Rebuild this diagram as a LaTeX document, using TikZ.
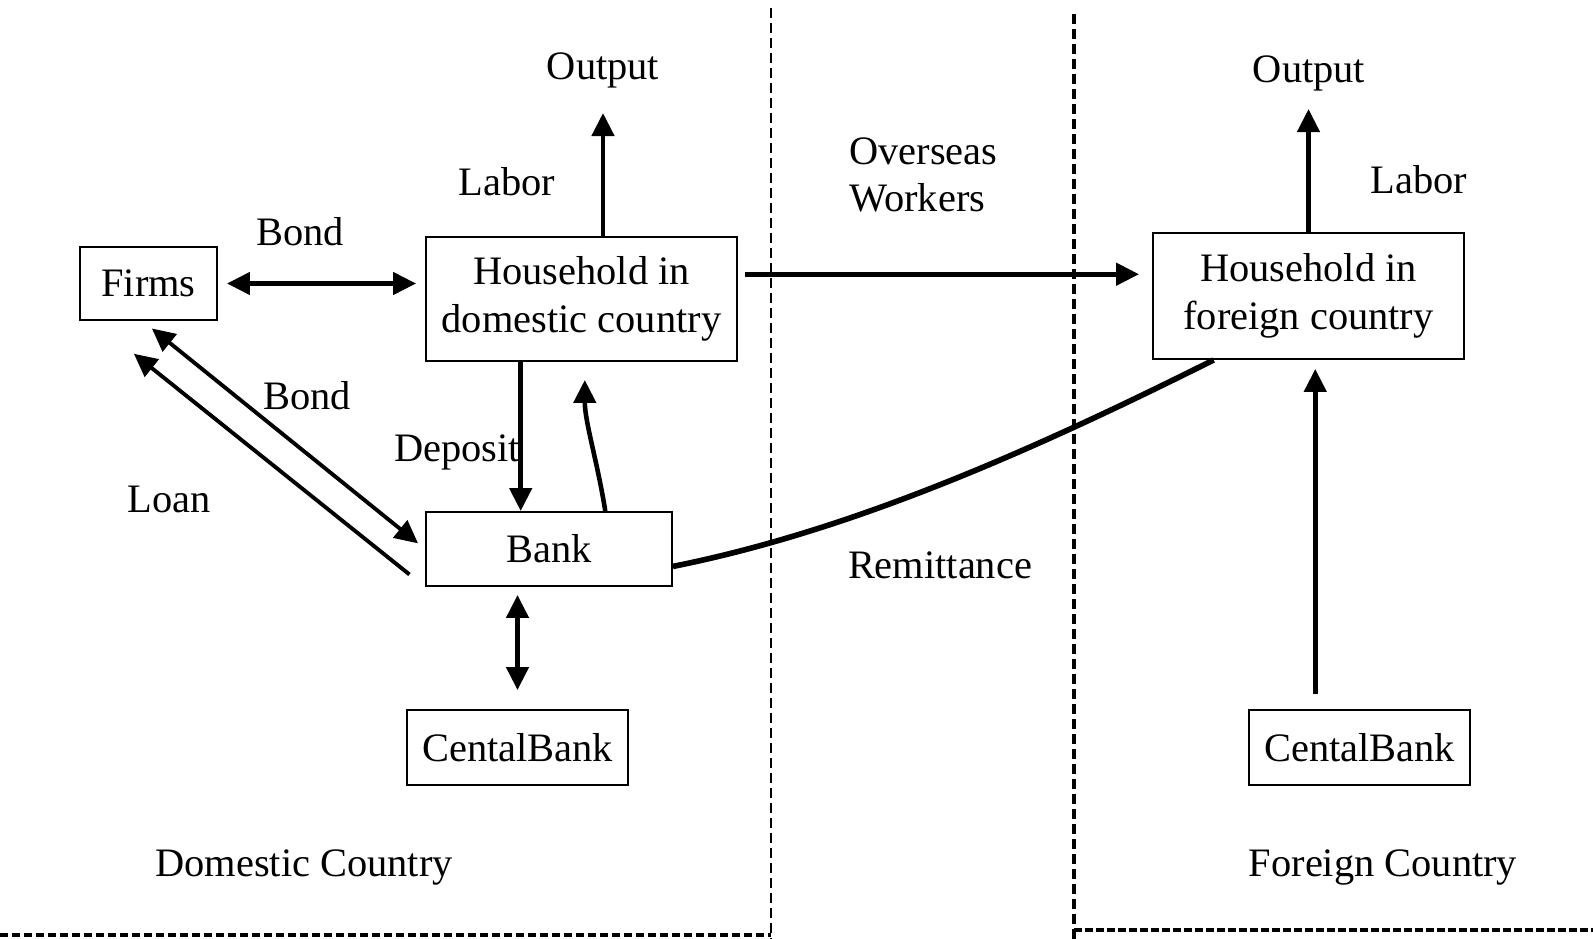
\documentclass[tikz,border=0pt]{standalone}
\usepackage{fontspec}
\setmainfont{Liberation Serif}
\usetikzlibrary{arrows.meta}

\begin{document}
\begin{tikzpicture}[x=0.02cm,y=-0.02cm,
    font=\fontsize{23}{27}\selectfont,
    box/.style={draw,line width=1.1pt,inner sep=0pt,align=center},
    lbl/.style={inner sep=0pt},
    flow/.style={line width=2.6pt,-{Triangle[length=0.46cm,width=0.44cm]}},
    both/.style={line width=2.6pt,{Triangle[length=0.46cm,width=0.44cm]}-{Triangle[length=0.46cm,width=0.44cm]}},
    border/.style={line width=1.3pt,dash pattern=on 0.2cm off 0.1cm}]
            \useasboundingbox (0,0) rectangle (1593,939);
            \node[box,minimum width=2.74cm,minimum height=1.46cm] (firms) at (148.5,283.5) {Firms};
            \node[box,minimum width=6.22cm,minimum height=2.48cm] (hhdom) at (581.5,299) {Household in\\domestic country};
            \node[box,minimum width=4.92cm,minimum height=1.48cm] (bank) at (549,549) {Bank};
            \node[box,minimum width=4.42cm,minimum height=1.5cm] (cbdom) at (517.5,747.5) {CentalBank};
            \node[box,minimum width=6.22cm,minimum height=2.52cm] (hhfor) at (1308.5,296) {Household in\\foreign country};
            \node[box,minimum width=4.42cm,minimum height=1.5cm] (cbfor) at (1359.5,747.5) {CentalBank};
            \node[lbl] (outdom) at (603,70) {Output};
            \node[lbl] (labdom) at (507,182) {Labor};
            \node[lbl] (bondup) at (300,232) {Bond};
            \node[lbl] (bondlow) at (307,396) {Bond};
            \node[lbl] (deposit) at (457,452) {Deposit};
            \node[lbl] (loan) at (169,499) {Loan};
            \node[lbl,align=left,anchor=west] (overseas) at (849,175) {Overseas\\Workers};
            \node[lbl] (remit) at (940,565) {Remittance};
            \node[lbl] (outfor) at (1309,73) {Output};
            \node[lbl] (labfor) at (1419,180) {Labor};
            \node[lbl] (domestic) at (304,867) {Domestic Country};
            \node[lbl] (foreign) at (1383,867) {Foreign Country};
            \draw[flow,shorten >=0.5cm] (outdom.south |- hhdom.north) -- (outdom.south);
            \draw[flow,shorten >=0.36cm] (hhfor.north) -- (hhfor.north |- outfor.south);
            \draw[both,shorten <=0.18cm,shorten >=0.18cm] (firms.east) -- (firms.east -| hhdom.west);
            \draw[flow,shorten <=0.14cm,shorten >=0.26cm] (hhdom.9) -- (hhdom.9 -| hhfor.west);
            \draw[flow] (hhdom.226) -- (hhdom.226 |- bank.north);
            \draw[flow,shorten >=0.36cm] (bank.34) .. controls +(-8,-50) and +(0,60) .. (hhdom.273);
            \draw[both,line width=2.2pt,shorten <=0.24cm,shorten >=0.18cm] (firms.261) -- (bank.west);
            \draw[flow,line width=2.2pt,shorten <=0.4cm,shorten >=1.05cm] (bank.south west) -- (firms.214);
            \draw[both,shorten <=0.38cm,shorten >=0.16cm] (cbdom.north) -- (cbdom.north |- bank.south);
            \draw[flow,shorten <=0.3cm,shorten >=0.18cm] (cbfor.139) -- (cbfor.139 |- hhfor.south);
            \draw[line width=3.2pt] (bank.352) .. controls +(180,-36) and +(-180,90) .. (hhfor.214);
            \draw[border] (771,8) -- (771,939);
            \draw[border,line width=1.8pt] (1074,14) -- (1074,939);
            \draw[border,line width=1.8pt,dash pattern=on 0.16cm off 0.08cm] (0,935) -- (771,935);
            \draw[border,line width=2.4pt,dash pattern=on 0.16cm off 0.06cm] (1074,930) -- (1593,930);
        \end{tikzpicture}
\end{document}
